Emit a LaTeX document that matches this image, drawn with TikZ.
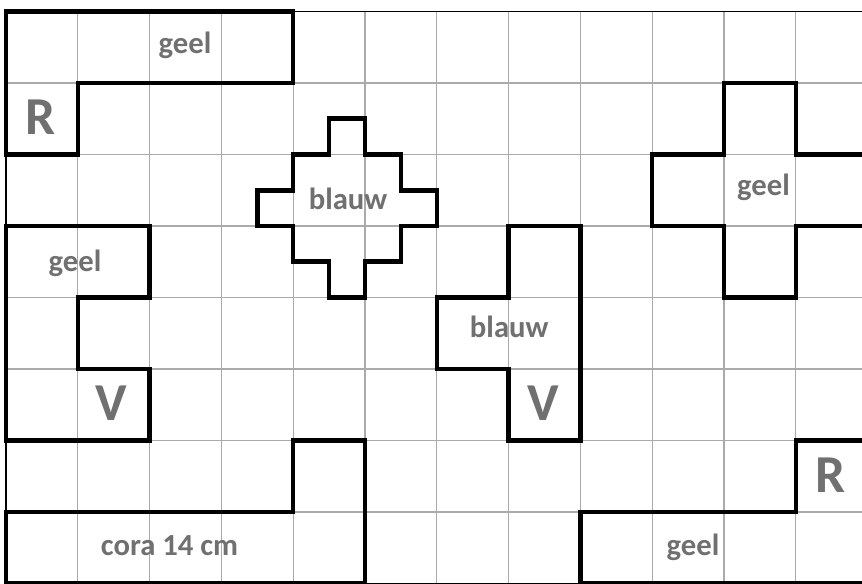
\documentclass[tikz,border=0pt]{standalone}
\usepackage{fontspec}
\setmainfont{Carlito}
\definecolor{txtgray}{RGB}{112,112,112}
\definecolor{gridgray}{RGB}{170,170,170}
\begin{document}
\begin{tikzpicture}[x=0.75pt,y=-0.75pt,
  gridline/.style={draw=gridgray,line width=1pt},
  frame/.style={draw=black,line width=1.3pt},
  piece/.style={draw=black,line width=3.4pt,line join=miter},
  lbl/.style={text=txtgray,font=\bfseries\fontsize{23}{23}\selectfont,inner sep=0pt,anchor=base},
  big/.style={text=txtgray,font=\bfseries\fontsize{40}{40}\selectfont,inner sep=0pt,anchor=base}]
\useasboundingbox (0,0) rectangle (862,584);
\clip (0,0) rectangle (862,584);
\fill[white] (0,0) rectangle (862,584);
\begin{scope}[shift={(4.5pt,-8.625pt)},x=53.85pt,y=-53.625pt]
  \foreach \c in {1,...,12} \draw[gridline] (\c,0) -- (\c,8);
  \foreach \r in {1,...,7} \draw[gridline] (0,\r) -- (12.5,\r);
  \draw[frame] (12.5,0) -- (0,0) -- (0,8) -- (12.5,8);
  % top-left piece
  \draw[piece] (0,0) -- (4,0) -- (4,1) -- (1,1) -- (1,2) -- (0,2) -- cycle;
  % blue diamond
  \draw[piece] (4.5,1.5) -- (5,1.5) -- (5,2) -- (5.5,2) -- (5.5,2.5) -- (6,2.5)
    -- (6,3) -- (5.5,3) -- (5.5,3.5) -- (5,3.5) -- (5,4) -- (4.5,4) -- (4.5,3.5)
    -- (4,3.5) -- (4,3) -- (3.5,3) -- (3.5,2.5) -- (4,2.5) -- (4,2) -- (4.5,2) -- cycle;
  % right cross
  \draw[piece] (10,1) -- (11,1) -- (11,2) -- (12.5,2) -- (12.5,3) -- (11,3) -- (11,4)
    -- (10,4) -- (10,3) -- (9,3) -- (9,2) -- (10,2) -- cycle;
  % left piece
  \draw[piece] (0,3) -- (2,3) -- (2,4) -- (1,4) -- (1,5) -- (2,5) -- (2,6) -- (0,6) -- cycle;
  % middle piece
  \draw[piece] (7,3) -- (8,3) -- (8,6) -- (7,6) -- (7,5) -- (6,5) -- (6,4) -- (7,4) -- cycle;
  % bottom-left piece
  \draw[piece] (0,7) -- (4,7) -- (4,6) -- (5,6) -- (5,8) -- (0,8) -- cycle;
  % bottom-right piece
  \draw[piece] (8,8) -- (8,7) -- (11,7) -- (11,6) -- (12.5,6) -- (12.5,8) -- cycle;
\end{scope}
\node[lbl] (geelA) at (185,53.3) {geel};
\node[big] (rA) at (40.7,135) {R};
\node[lbl] (blauwA) at (348,210) {blauw};
\node[lbl] (geelB) at (763.5,196) {geel};
\node[lbl] (geelC) at (75,272) {geel};
\node[big] (vA) at (111.7,420) {V};
\node[lbl] (blauwB) at (509.2,337.7) {blauw};
\node[big] (vB) at (543.7,420) {V};
\node[lbl] (cora) at (169.5,555.5) {cora 14 cm};
\node[lbl] (geelD) at (693,555) {geel};
\node[big] (rB) at (830.3,492.7) {R};
\end{tikzpicture}
\end{document}
